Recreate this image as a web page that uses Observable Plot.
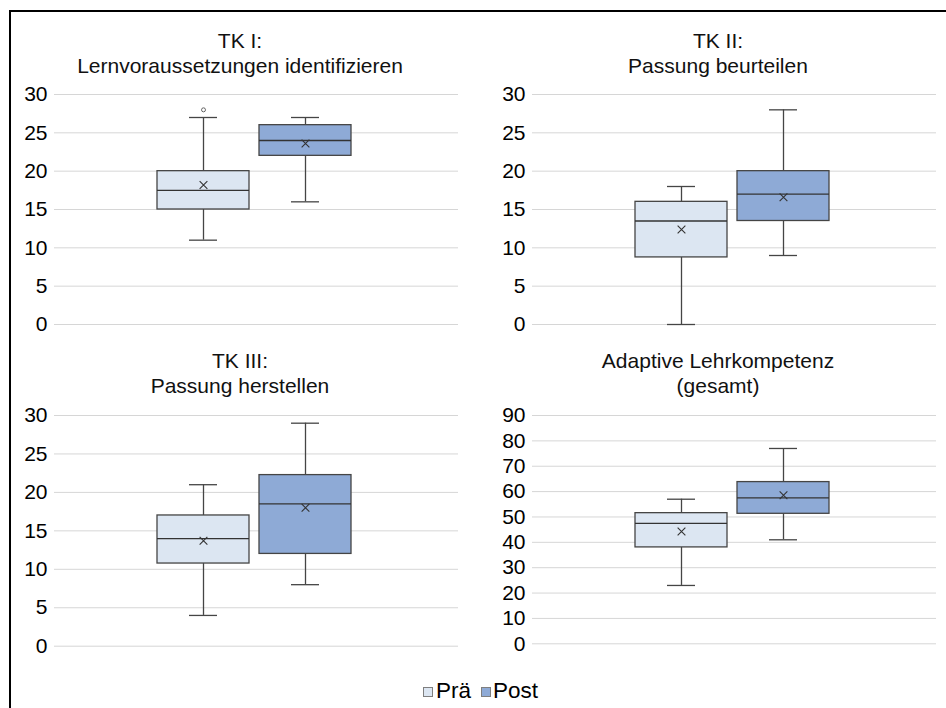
<!DOCTYPE html>
<html>
<head>
<meta charset="utf-8">
<script src="https://cdn.jsdelivr.net/npm/d3@7"></script>
<script src="https://cdn.jsdelivr.net/npm/@observablehq/plot@0.6"></script>
<style>
  html, body { margin: 0; padding: 0; background: #fff; }
  body { width: 946px; height: 708px; position: relative; overflow: hidden; font-family: "Liberation Sans", Arial, sans-serif; color: #000; }
  .frame { position: absolute; left: 9px; top: 10px; width: 960px; height: 720px; border-left: 2px solid #000; border-top: 2px solid #000; box-sizing: border-box; pointer-events: none; z-index: 5; }
  .title { position: absolute; width: 460px; text-align: center; font-size: 21px; line-height: 25px; color: #111; white-space: nowrap; }
  .panel { position: absolute; }
  .legend { position: absolute; top: 677px; left: 0; width: 946px; font-size: 22.5px; line-height: 28px; white-space: nowrap; }
  .legend .item { position: absolute; top: 0; }
  .legend .sw { position: absolute; width: 8px; height: 8px; border: 1px solid #7f7f7f; top: 10px; }
</style>
</head>
<body>
<div class="frame"></div>
<div id="root"></div>
<script>
// ---- data ----
const groups = ["Prä", "Post"];
const fillColors = ["#dce6f2", "#8eaad6"];
const panelTitles = [
  ["TK I:", "Lernvoraussetzungen identifizieren"],
  ["TK II:", "Passung beurteilen"],
  ["TK III:", "Passung herstellen"],
  ["Adaptive Lehrkompetenz", "(gesamt)"]
];
const whiskerLow  = [[11, 16], [0, 9], [4, 8], [23, 41]];
const quartile1   = [[15, 22], [8.75, 13.5], [10.75, 12], [38, 51.25]];
const medians     = [[17.5, 24], [13.5, 17], [14, 18.5], [47.5, 57.5]];
const quartile3   = [[20, 26], [16, 20], [17, 22.25], [51.5, 63.75]];
const whiskerHigh = [[27, 27], [18, 28], [21, 29], [57, 77]];
const means       = [[18.2, 23.6], [12.4, 16.6], [13.7, 18], [44.3, 58.6]];
const outliers    = [[[28], []], [[], []], [[], []], [[], []]];
const yTicks = [
  [0, 5, 10, 15, 20, 25, 30],
  [0, 5, 10, 15, 20, 25, 30],
  [0, 5, 10, 15, 20, 25, 30],
  [0, 10, 20, 30, 40, 50, 60, 70, 80, 90]
];
const yMax = [30, 30, 30, 90];

// ---- layout (positions only) ----
const layout = [
  {left: 10,  top: 80,  width: 460, height: 262, mt: 14, mb: 18,   ml: 44, mr: 12, titleLeft: 10,  titleTop: 28},
  {left: 480, top: 80,  width: 466, height: 262, mt: 14, mb: 18,   ml: 52, mr: 10, titleLeft: 488, titleTop: 28},
  {left: 10,  top: 400, width: 460, height: 262, mt: 15, mb: 16.3, ml: 44, mr: 12, titleLeft: 10,  titleTop: 348},
  {left: 480, top: 400, width: 466, height: 262, mt: 15, mb: 18.7, ml: 52, mr: 10, titleLeft: 488, titleTop: 348}
];

const root = document.getElementById("root");
const boxStroke = "#454545";

for (let p = 0; p < 4; p++) {
  const L = layout[p];
  const rows = groups.map((g, i) => ({
    group: g,
    lo: whiskerLow[p][i], q1: quartile1[p][i], med: medians[p][i],
    q3: quartile3[p][i], hi: whiskerHigh[p][i], mean: means[p][i]
  }));
  const outRows = [];
  groups.forEach((g, i) => outliers[p][i].forEach(v => outRows.push({group: g, value: v})));

  const chart = Plot.plot({
    width: L.width, height: L.height,
    marginTop: L.mt, marginBottom: L.mb, marginLeft: L.ml, marginRight: L.mr,
    style: {fontFamily: "'Liberation Sans', Arial, sans-serif", fontSize: "21px", background: "transparent", color: "#000"},
    x: {type: "band", domain: groups, paddingInner: 0.0976, paddingOuter: 1.02, align: 0.49, axis: null},
    y: {domain: [0, yMax[p]], axis: null},
    color: {domain: groups, range: fillColors},
    marks: [
      Plot.gridY(yTicks[p], {stroke: "#d6d6d6", strokeOpacity: 1, strokeWidth: 1}),
      Plot.axisY(yTicks[p], {tickSize: 0, tickPadding: 7, label: null, fill: "#000", fontSize: 21}),
      Plot.ruleX(rows, {x: "group", y1: "lo", y2: "q1", stroke: boxStroke, strokeWidth: 1.3}),
      Plot.ruleX(rows, {x: "group", y1: "q3", y2: "hi", stroke: boxStroke, strokeWidth: 1.3}),
      Plot.tickY(rows, {x: "group", y: "lo", stroke: boxStroke, strokeWidth: 1.3, insetLeft: 32, insetRight: 32}),
      Plot.tickY(rows, {x: "group", y: "hi", stroke: boxStroke, strokeWidth: 1.3, insetLeft: 32, insetRight: 32}),
      Plot.barY(rows, {x: "group", y1: "q1", y2: "q3", fill: "group", stroke: boxStroke, strokeWidth: 1.3}),
      Plot.tickY(rows, {x: "group", y: "med", stroke: "#333", strokeWidth: 1.3}),
      Plot.dot(rows, {x: "group", y: "mean", symbol: "times", r: 3.6, stroke: "#333", strokeWidth: 1.1}),
      Plot.dot(outRows, {x: "group", y: "value", r: 2, fill: "#fff", stroke: "#666", strokeWidth: 1})
    ]
  });
  const wrap = document.createElement("div");
  wrap.className = "panel";
  wrap.style.left = L.left + "px";
  wrap.style.top = L.top + "px";
  wrap.appendChild(chart);
  root.appendChild(wrap);

  const t = document.createElement("div");
  t.className = "title";
  t.style.left = L.titleLeft + "px";
  t.style.top = L.titleTop + "px";
  t.innerHTML = panelTitles[p].map(s => `<div>${s}</div>`).join("");
  root.appendChild(t);
}

// legend
const legend = document.createElement("div");
legend.className = "legend";
const legendPos = [{sw: 423, tx: 436}, {sw: 481, tx: 493}];
groups.forEach((g, i) => {
  const sw = document.createElement("div");
  sw.className = "sw";
  sw.style.left = legendPos[i].sw + "px";
  sw.style.background = fillColors[i];
  legend.appendChild(sw);
  const tx = document.createElement("div");
  tx.className = "item";
  tx.style.left = legendPos[i].tx + "px";
  tx.textContent = g;
  legend.appendChild(tx);
});
root.appendChild(legend);
</script>
</body>
</html>
